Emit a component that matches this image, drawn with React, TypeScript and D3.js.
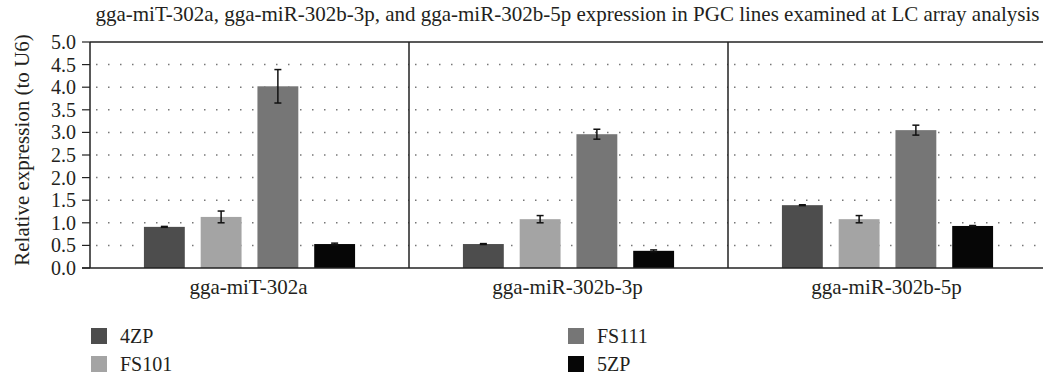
import React from 'react';
import * as d3 from 'd3';

const categories = ['gga-miT-302a', 'gga-miR-302b-3p', 'gga-miR-302b-5p'];
const seriesNames = ['4ZP', 'FS101', 'FS111', '5ZP'];
const seriesColors = ['#4d4d4d', '#a4a4a4', '#767676', '#060606'];

// values per series, one per category
const values4ZP = [0.91, 0.53, 1.39];
const valuesFS101 = [1.13, 1.08, 1.08];
const valuesFS111 = [4.02, 2.96, 3.05];
const values5ZP = [0.53, 0.38, 0.93];

const err4ZP = [0.01, 0.01, 0.01];
const errFS101 = [0.13, 0.08, 0.08];
const errFS111 = [0.37, 0.11, 0.11];
const err5ZP = [0.02, 0.02, 0.01];

const yTicks = [0, 0.5, 1, 1.5, 2, 2.5, 3, 3.5, 4, 4.5, 5];

const title =
  'gga-miT-302a, gga-miR-302b-3p, and gga-miR-302b-5p expression in PGC lines examined at LC array analysis';

const allValues = [values4ZP, valuesFS101, valuesFS111, values5ZP];
const allErrors = [err4ZP, errFS101, errFS111, err5ZP];

const W = 1043;
const H = 376;
const left = 90;
const right = 1047;
const top = 42;
const bottom = 268;
const font = "'Liberation Serif', 'Times New Roman', serif";
const ink = '#231f20';
const txt = { fontFamily: font };

const App = () => {
  const x0 = d3.scaleBand().domain(categories).range([left, right]);
  const x1 = d3
    .scaleBand()
    .domain(seriesNames)
    .range([0, x0.bandwidth()])
    .paddingInner(0.28)
    .paddingOuter(0.95);
  const y = d3.scaleLinear().domain([0, 5]).range([bottom, top]);
  const fmt = d3.format('.1f');

  return (
    <svg width={W} height={H} style={{ position: 'absolute', left: 0, top: 0, background: '#fff' }}>
      {/* title */}
      <text x={(left + W) / 2 + 1} y={21} textAnchor="middle" fontSize={21} fill={ink} style={txt}>
        {title}
      </text>

      {/* dotted grid, one run per group */}
      {categories.map((c) =>
        yTicks
          .filter((t) => t > 0 && t < 5)
          .map((t) => (
            <line
              key={c + t}
              x1={x0(c)! + 6}
              x2={x0(c)! + x0.bandwidth()}
              y1={y(t)}
              y2={y(t)}
              stroke="#777"
              strokeWidth={1.5}
              strokeDasharray="1.5 10.5"
            />
          ))
      )}

      {/* bars */}
      {categories.map((c, ci) =>
        seriesNames.map((s, si) => {
          const v = allValues[si][ci];
          const e = allErrors[si][ci];
          const bx = x0(c)! + x1(s)!;
          const cx = bx + x1.bandwidth() / 2;
          return (
            <g key={c + s}>
              <rect
                x={bx}
                y={y(v)}
                width={x1.bandwidth()}
                height={y(0) - y(v)}
                fill={seriesColors[si]}
              />
              <line x1={cx} x2={cx} y1={y(v + e)} y2={y(v - e)} stroke="#111" strokeWidth={1.5} />
              <line x1={cx - 3.5} x2={cx + 3.5} y1={y(v + e)} y2={y(v + e)} stroke="#111" strokeWidth={1.5} />
              <line x1={cx - 3.5} x2={cx + 3.5} y1={y(v - e)} y2={y(v - e)} stroke="#111" strokeWidth={1.5} />
            </g>
          );
        })
      )}

      {/* frame and group separators */}
      <line x1={left} x2={W} y1={top} y2={top} stroke="#222" strokeWidth={1.5} />
      <line x1={left} x2={left} y1={top} y2={bottom} stroke="#222" strokeWidth={1.5} />
      <line x1={left - 8} x2={W} y1={bottom} y2={bottom} stroke="#222" strokeWidth={1.5} />
      {categories.slice(1).map((c) => (
        <line key={c} x1={x0(c)} x2={x0(c)} y1={top} y2={bottom} stroke="#222" strokeWidth={1.5} />
      ))}

      {/* y axis ticks */}
      {yTicks.map((t) => (
        <g key={t}>
          <line x1={left - 8} x2={left} y1={y(t)} y2={y(t)} stroke="#222" strokeWidth={1.2} />
          <text
            x={left - 14}
            y={y(t)}
            textAnchor="end"
            dominantBaseline="central"
            fontSize={20}
            fill={ink}
            style={txt}
          >
            {fmt(t)}
          </text>
        </g>
      ))}
      <text
        transform={`translate(22,${(top + bottom) / 2 - 5}) rotate(-90)`}
        textAnchor="middle"
        dominantBaseline="central"
        fontSize={21}
        fill={ink}
        style={txt}
      >
        Relative expression (to U6)
      </text>

      {/* category labels */}
      {categories.map((c) => (
        <text
          key={c}
          x={x0(c)! + x0.bandwidth() / 2 - 1}
          y={294}
          textAnchor="middle"
          fontSize={21}
          fill={ink}
          style={txt}
        >
          {c}
        </text>
      ))}

      {/* legend */}
      {seriesNames.map((s, i) => {
        const col = i === 0 || i === 1 ? 0 : 1;
        const row = i === 0 || i === 2 ? 0 : 1;
        const lx = col === 0 ? 91 : 568;
        const ly = row === 0 ? 336 : 364;
        return (
          <g key={s}>
            <rect x={lx} y={ly - 8} width={16} height={16} fill={seriesColors[i]} />
            <text x={lx + 29} y={ly} dominantBaseline="central" fontSize={20} fill={ink} style={txt}>
              {s}
            </text>
          </g>
        );
      })}
    </svg>
  );
};

export default App;
